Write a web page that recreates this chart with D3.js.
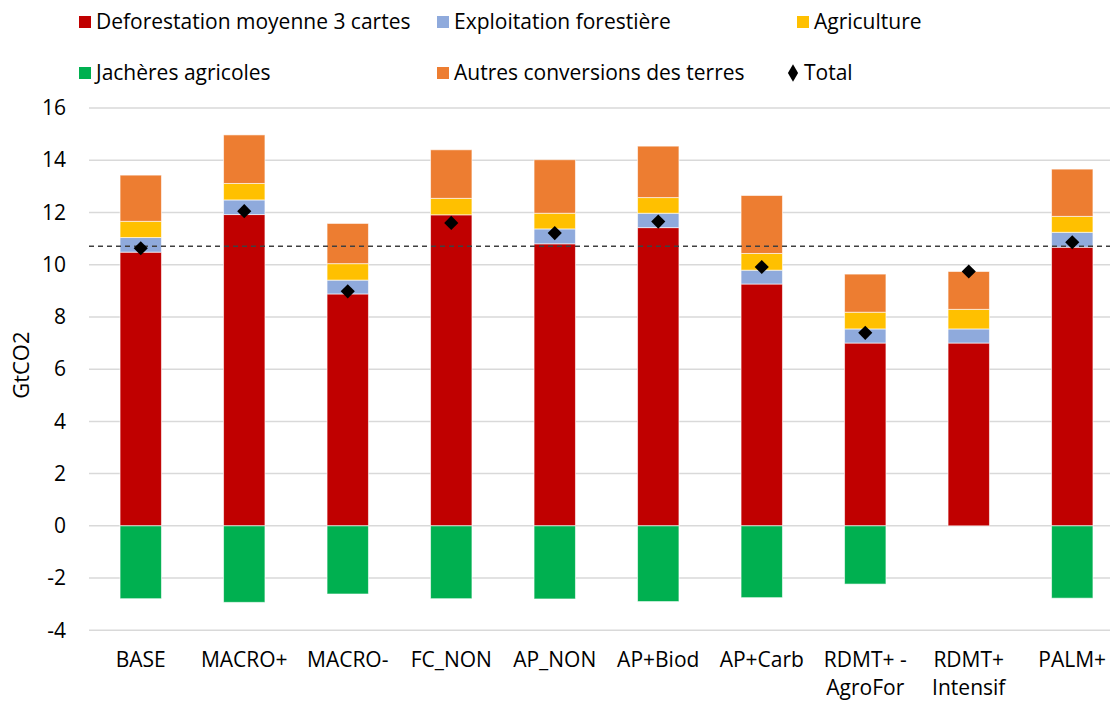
<!DOCTYPE html>
<html>
<head>
<meta charset="utf-8">
<script src="https://cdn.jsdelivr.net/npm/d3@7/dist/d3.min.js"></script>
<style>
  html, body { margin: 0; padding: 0; background: #fff; }
  svg { display: block; font-family: "Open Sans", Lato, "Noto Sans", sans-serif; }
</style>
</head>
<body>
<svg id="chart" width="1110" height="701"></svg>
<script>
// ---- Data ----
const categories = ["BASE", "MACRO+", "MACRO-", "FC_NON", "AP_NON", "AP+Biod", "AP+Carb", "RDMT+ -|AgroFor", "RDMT+|Intensif", "PALM+"];
const deforestation = [10.48, 11.92, 8.88, 11.91, 10.80, 11.42, 9.26, 7.00, 7.00, 10.67];
const exploitation  = [0.56, 0.56, 0.53, 0.00, 0.57, 0.55, 0.53, 0.54, 0.54, 0.57];
const agriculture   = [0.62, 0.63, 0.63, 0.63, 0.60, 0.60, 0.64, 0.64, 0.75, 0.61];
const autres        = [1.77, 1.86, 1.54, 1.86, 2.05, 1.97, 2.22, 1.46, 1.45, 1.81];
const jacheres      = [-2.79, -2.93, -2.61, -2.79, -2.80, -2.90, -2.75, -2.23, 0.00, -2.77];
const total         = [10.63, 12.05, 8.98, 11.60, 11.21, 11.65, 9.91, 7.39, 9.74, 10.86];
const referenceLine = 10.71;
const yTicks = [-4, -2, 0, 2, 4, 6, 8, 10, 12, 14, 16];

const seriesNames = ["Deforestation moyenne 3 cartes", "Exploitation forestière", "Agriculture", "Jachères agricoles", "Autres conversions des terres", "Total"];
const seriesColors = { defo: "#C00000", expl: "#8FAADC", agri: "#FFC000", jach: "#00B050", autr: "#ED7D31" };

// ---- Build table ----
const table = categories.map((c, i) => ({
  cat: c, defo: deforestation[i], expl: exploitation[i], agri: agriculture[i],
  autr: autres[i], jach: jacheres[i], total: total[i]
}));

const svg = d3.select("#chart");
const plotLeft = 89, plotRight = 1124, plotTop = 108, plotBottom = 630.3;

const x = d3.scaleBand().domain(categories).range([plotLeft, plotRight]).paddingInner(0.6).paddingOuter(0.3);
const y = d3.scaleLinear().domain([-4, 16]).range([plotBottom, plotTop]);

// gridlines
svg.append("g").selectAll("line").data(yTicks).join("line")
  .attr("x1", plotLeft).attr("x2", plotRight)
  .attr("y1", d => y(d)).attr("y2", d => y(d))
  .attr("stroke", "#D9D9D9").attr("stroke-width", 1.5);

// y axis labels
const yAxis = d3.axisLeft(y).tickValues(yTicks).tickSize(0).tickPadding(0).tickFormat(d => String(d));
const yg = svg.append("g").attr("transform", `translate(66,0)`).call(yAxis);
yg.select(".domain").remove();
yg.selectAll("text").attr("font-size", 21).attr("fill", "#000")
  .attr("font-family", '"Open Sans", sans-serif');

// y axis title
svg.append("text")
  .attr("transform", `translate(29,${(plotTop + plotBottom) / 2 - 4}) rotate(-90)`)
  .attr("text-anchor", "middle").attr("font-size", 22).attr("fill", "#000")
  .text("GtCO2");

// stacked bars
const stack = d3.stack().keys(["defo", "expl", "agri", "autr", "jach"]).offset(d3.stackOffsetDiverging);
const stacked = stack(table);

svg.append("g").selectAll("g").data(stacked).join("g")
  .attr("fill", d => seriesColors[d.key])
  .selectAll("rect").data(d => d).join("rect")
  .attr("x", d => x(d.data.cat))
  .attr("width", x.bandwidth())
  .attr("y", d => y(Math.max(d[0], d[1])))
  .attr("height", d => Math.abs(y(d[0]) - y(d[1])))
  .attr("stroke", "#fff").attr("stroke-opacity", 0.6).attr("stroke-width", 1);

// dashed reference line
svg.append("line")
  .attr("x1", plotLeft).attr("x2", plotRight)
  .attr("y1", y(referenceLine)).attr("y2", y(referenceLine))
  .attr("stroke", "#404040").attr("stroke-width", 1.5).attr("stroke-dasharray", "5,4");

// total markers
const diamond = d3.symbol().type(d3.symbolSquare).size(100);
svg.append("g").selectAll("path").data(table).join("path")
  .attr("d", diamond)
  .attr("transform", d => `translate(${x(d.cat) + x.bandwidth() / 2},${y(d.total)}) rotate(45)`)
  .attr("fill", "#000");

// x labels
const xg = svg.append("g");
categories.forEach(c => {
  const lines = c.split("|");
  const t = xg.append("text")
    .attr("x", x(c) + x.bandwidth() / 2).attr("y", 667)
    .attr("text-anchor", "middle").attr("font-size", 21).attr("fill", "#000");
  lines.forEach((l, j) => t.append("tspan").attr("x", x(c) + x.bandwidth() / 2).attr("dy", j === 0 ? 0 : 28).text(l));
});

// legend
const legendItems = [
  { name: seriesNames[0], key: "defo", lx: 79, ly: 22 },
  { name: seriesNames[1], key: "expl", lx: 437, ly: 22 },
  { name: seriesNames[2], key: "agri", lx: 797, ly: 22 },
  { name: seriesNames[3], key: "jach", lx: 79, ly: 73 },
  { name: seriesNames[4], key: "autr", lx: 437, ly: 73 },
  { name: seriesNames[5], key: "total", lx: 787, ly: 73 }
];
const lg = svg.append("g");
legendItems.forEach(it => {
  if (it.key === "total") {
    lg.append("path").attr("d", d3.symbol().type(d3.symbolDiamond).size(90))
      .attr("transform", `translate(${it.lx + 6},${it.ly})`).attr("fill", "#000");
  } else {
    lg.append("rect").attr("x", it.lx).attr("y", it.ly - 6).attr("width", 12).attr("height", 12)
      .attr("fill", seriesColors[it.key]);
  }
  lg.append("text").attr("x", it.lx + 17).attr("y", it.ly).attr("dy", "0.35em")
    .attr("font-size", 21).attr("fill", "#000").text(it.name);
});
</script>
</body>
</html>
